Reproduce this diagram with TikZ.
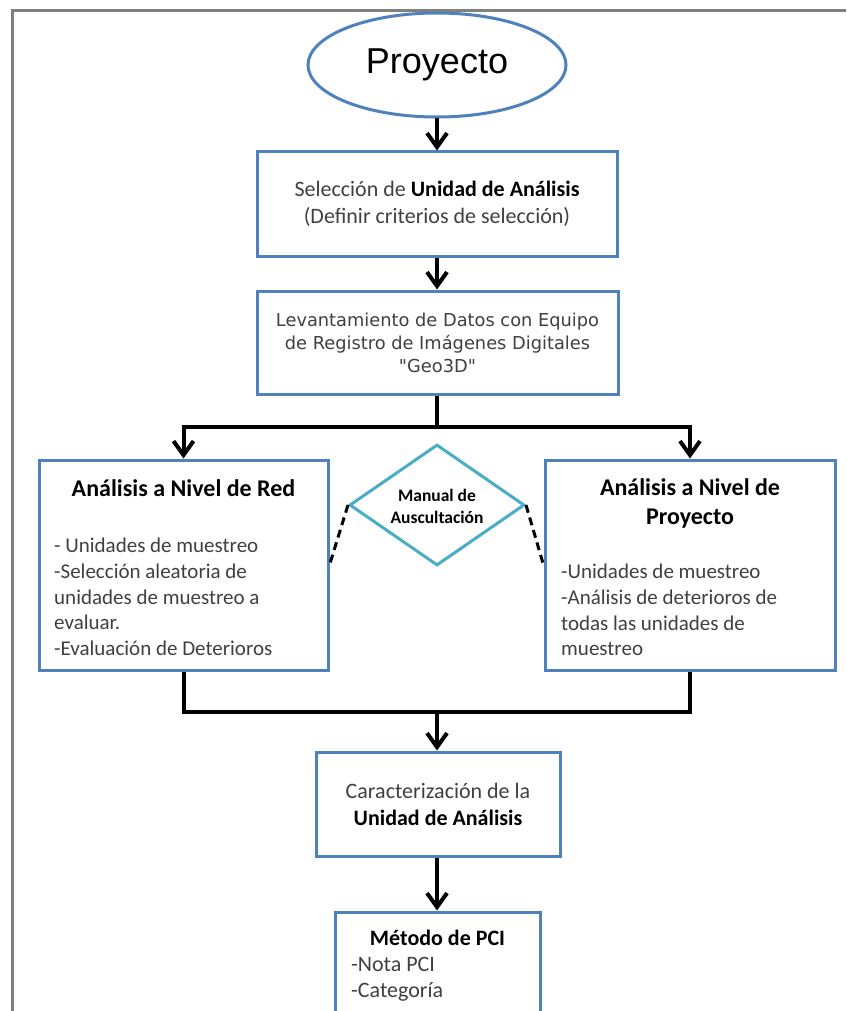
\documentclass[tikz,border=0pt]{standalone}
\usepackage{fontspec}
\setmainfont{Carlito}
\newfontfamily\arialf{Liberation Sans}
\newfontfamily\dejaf{DejaVu Sans}
\usetikzlibrary{shapes.geometric,arrows.meta}
\definecolor{boxblue}{HTML}{4F81BD}
\definecolor{aqua}{HTML}{4BACC6}
\definecolor{txt}{HTML}{404040}
\definecolor{framegray}{HTML}{808080}
\begin{document}
\begin{tikzpicture}[x=1pt,y=-1pt,
  box/.style={draw=boxblue,line width=3pt,fill=white,inner sep=0pt,rectangle},
  flow/.style={line width=4pt,black},
  arr/.style={flow,-{Straight Barb[length=14pt,width=20pt]}},
  dashcon/.style={line width=3pt,black,dash pattern=on 8pt off 5pt},
  ctext/.style={align=center,inner sep=0pt,text=txt},
  ltext/.style={align=left,inner sep=0pt,text=txt,anchor=west}]
\useasboundingbox (0,0) rectangle (846,1011);
\clip (0,0) rectangle (846,1011);
% frame
\draw[framegray,line width=3pt] (12,1011) -- (12,11) -- (846,11);
% nodes
\node[ellipse,draw=boxblue,line width=3pt,minimum width=258pt,minimum height=104pt,inner sep=0pt,
  font={\arialf\fontsize{36}{40}\selectfont}] (proj) at (437,65) {Proyecto};
\node[box,minimum width=360pt,minimum height=104pt,ctext,font={\fontsize{22}{27}\selectfont}] (b1) at (437,204)
  {Selección de \textbf{\color{black}Unidad de Análisis}\\(Definir criterios de selección)};
\node[box,minimum width=361pt,minimum height=103pt,ctext,font={\dejaf\fontsize{17.8}{23}\selectfont}] (b2) at (437.5,342.5)
  {Levantamiento de Datos con Equipo\\de Registro de Imágenes Digitales\\"Geo3D"};
\node[box,minimum width=289pt,minimum height=210pt] (L) at (183.5,565) {};
\node[box,minimum width=290pt,minimum height=210pt] (R) at (690,565) {};
\node[diamond,draw=aqua,line width=3pt,minimum width=175pt,minimum height=121pt,inner sep=0pt] (D) at (437,505) {};
\node[ctext,text=black,font={\bfseries\fontsize{17.5}{22}\selectfont}] (Dt) at (437,506)
  {Manual de\\Auscultación};
\node[box,minimum width=244pt,minimum height=104pt,ctext,font={\fontsize{22}{27}\selectfont}] (b3) at (438,804)
  {Caracterización de la\\\textbf{\color{black}Unidad de Análisis}};
\node[box,minimum width=205pt,minimum height=130pt] (b4) at (437.5,977) {};
% texts in L
\node[ctext,text=black,font={\bfseries\fontsize{24}{29}\selectfont}] (Lt) at (183.5,488) {Análisis a Nivel de Red};
\node[ltext,font={\fontsize{21}{25.75}\selectfont}] (Li) at (54,597)
  {- Unidades de muestreo\\-Selección aleatoria de\\unidades de muestreo a\\evaluar.\\-Evaluación de Deterioros};
% texts in R
\node[ctext,text=black,font={\bfseries\fontsize{24}{29}\selectfont}] (Rt) at (690,503) {Análisis a Nivel de\\Proyecto};
\node[ltext,font={\fontsize{21}{25.75}\selectfont}] (Ri) at (561,610)
  {-Unidades de muestreo\\-Análisis de deterioros de\\todas las unidades de\\muestreo};
% texts in b4
\node[ctext,text=black,font={\bfseries\fontsize{22}{27}\selectfont}] (b4t) at (437.5,938) {Método de PCI};
\node[ltext,font={\fontsize{22}{26.5}\selectfont}] (b4i) at (351,979) {-Nota PCI\\-Categoría};
% connectors
\coordinate (jt) at (437,427);
\coordinate (jb) at (437,712);
\draw[arr] (proj.south) -- (b1.north);
\draw[arr] (b1.south) -- (b2.north -| b1.south);
\draw[flow] (b2.south -| b1.south) -- (jt);
\draw[arr] (jt) -| (L.north);
\draw[arr] (jt) -| (R.north);
\draw[flow] (L.south) |- (jb);
\draw[flow] (R.south) |- (jb);
\draw[arr] (jb) -- (b3.north -| jb);
\draw[arr] (b3.south -| jb) -- (b4.north -| jb);
\draw[dashcon] (D.west) -- (L.east);
\draw[dashcon] (D.east) -- (R.west);
\end{tikzpicture}
\end{document}
